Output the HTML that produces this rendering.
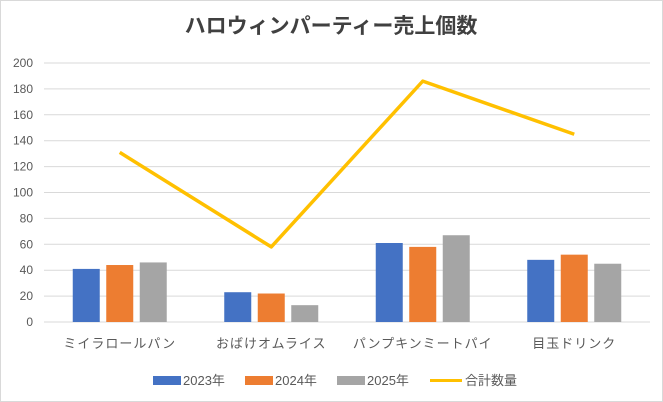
<!DOCTYPE html>
<html><head><meta charset="utf-8"><style>
body{margin:0;background:#fff;}
svg{display:block;font-family:"Liberation Sans","Noto Sans CJK JP",sans-serif;}
</style></head><body>
<svg id="c" width="663" height="402">
<rect x="0.5" y="0.5" width="662" height="401" fill="#fff" stroke="#d9d9d9"/>
<text x="331" y="33" text-anchor="middle" font-size="21" font-weight="bold" fill="#404040">ハロウィンパーティー売上個数</text>
<g id="grid"></g><g id="bars"></g><g id="line"></g><g id="labels"></g><g id="legend"></g>
</svg>
<script>
const categories=["ミイラロールパン","おばけオムライス","パンプキンミートパイ","目玉ドリンク"];
const s2023=[41,23,61,48];
const s2024=[44,22,58,52];
const s2025=[46,13,67,45];
const totals=[131,58,186,145];
const yTicks=[0,20,40,60,80,100,120,140,160,180,200];
const seriesNames=["2023年","2024年","2025年"];
const colors=["#4472c4","#ed7d31","#a5a5a5"];
const NS="http://www.w3.org/2000/svg";
const x0=44,x1=650,y0=322,yTop=63;
const y=v=>y0-(v/200)*(y0-yTop);
const cw=(x1-x0)/categories.length;
const xc=i=>x0+cw*(i+0.5);
function mk(tag,attrs,parent){const e=document.createElementNS(NS,tag);for(const k in attrs)e.setAttribute(k,attrs[k]);parent.appendChild(e);return e;}
const grid=document.getElementById('grid'),labels=document.getElementById('labels');
yTicks.forEach(t=>{
 const l=mk('line',{x1:x0,x2:x1,y1:y(t),y2:y(t),stroke:'#d9d9d9','stroke-width':1},grid);
 
 
 const tx=mk('text',{x:33,y:y(t)+4,'text-anchor':'end','font-size':12,fill:'#595959'},labels);
 tx.textContent=t;
 
 
});
const bars=document.getElementById('bars');
[s2023,s2024,s2025].forEach((s,si)=>{
 s.forEach((v,i)=>{
  const bx=xc(i)+(si-1)*33.5-13.5;
  const r=mk('rect',{x:bx,y:y(v),width:27,height:y0-y(v),fill:colors[si]},bars);
  
  
 });
});
categories.forEach((c,i)=>{
 const t=mk('text',{x:xc(i),y:348,'text-anchor':'middle','font-size':13,fill:'#595959','letter-spacing':'1'},labels);
 t.textContent=c;
 
 
});
const pl=mk('polyline',{points:totals.map((v,i)=>xc(i)+','+y(v)).join(' '),fill:'none',stroke:'#ffc000','stroke-width':3.5,'stroke-linejoin':'round'},document.getElementById('line'));


const lg=document.getElementById('legend');
const lx=[153,245,337];
seriesNames.forEach((n,i)=>{
 const r=mk('rect',{x:lx[i],y:376,width:28,height:9,fill:colors[i]},lg);
 
 
 const t=mk('text',{x:lx[i]+30,y:385,'font-size':13,fill:'#595959'},lg);
 t.textContent=n;
 
 
});
const ll=mk('line',{x1:430,x2:462,y1:380.5,y2:380.5,stroke:'#ffc000','stroke-width':3},lg);


const lt=mk('text',{x:465,y:385,'font-size':13,fill:'#595959'},lg);
lt.textContent="合計数量";


</script>
</body></html>
